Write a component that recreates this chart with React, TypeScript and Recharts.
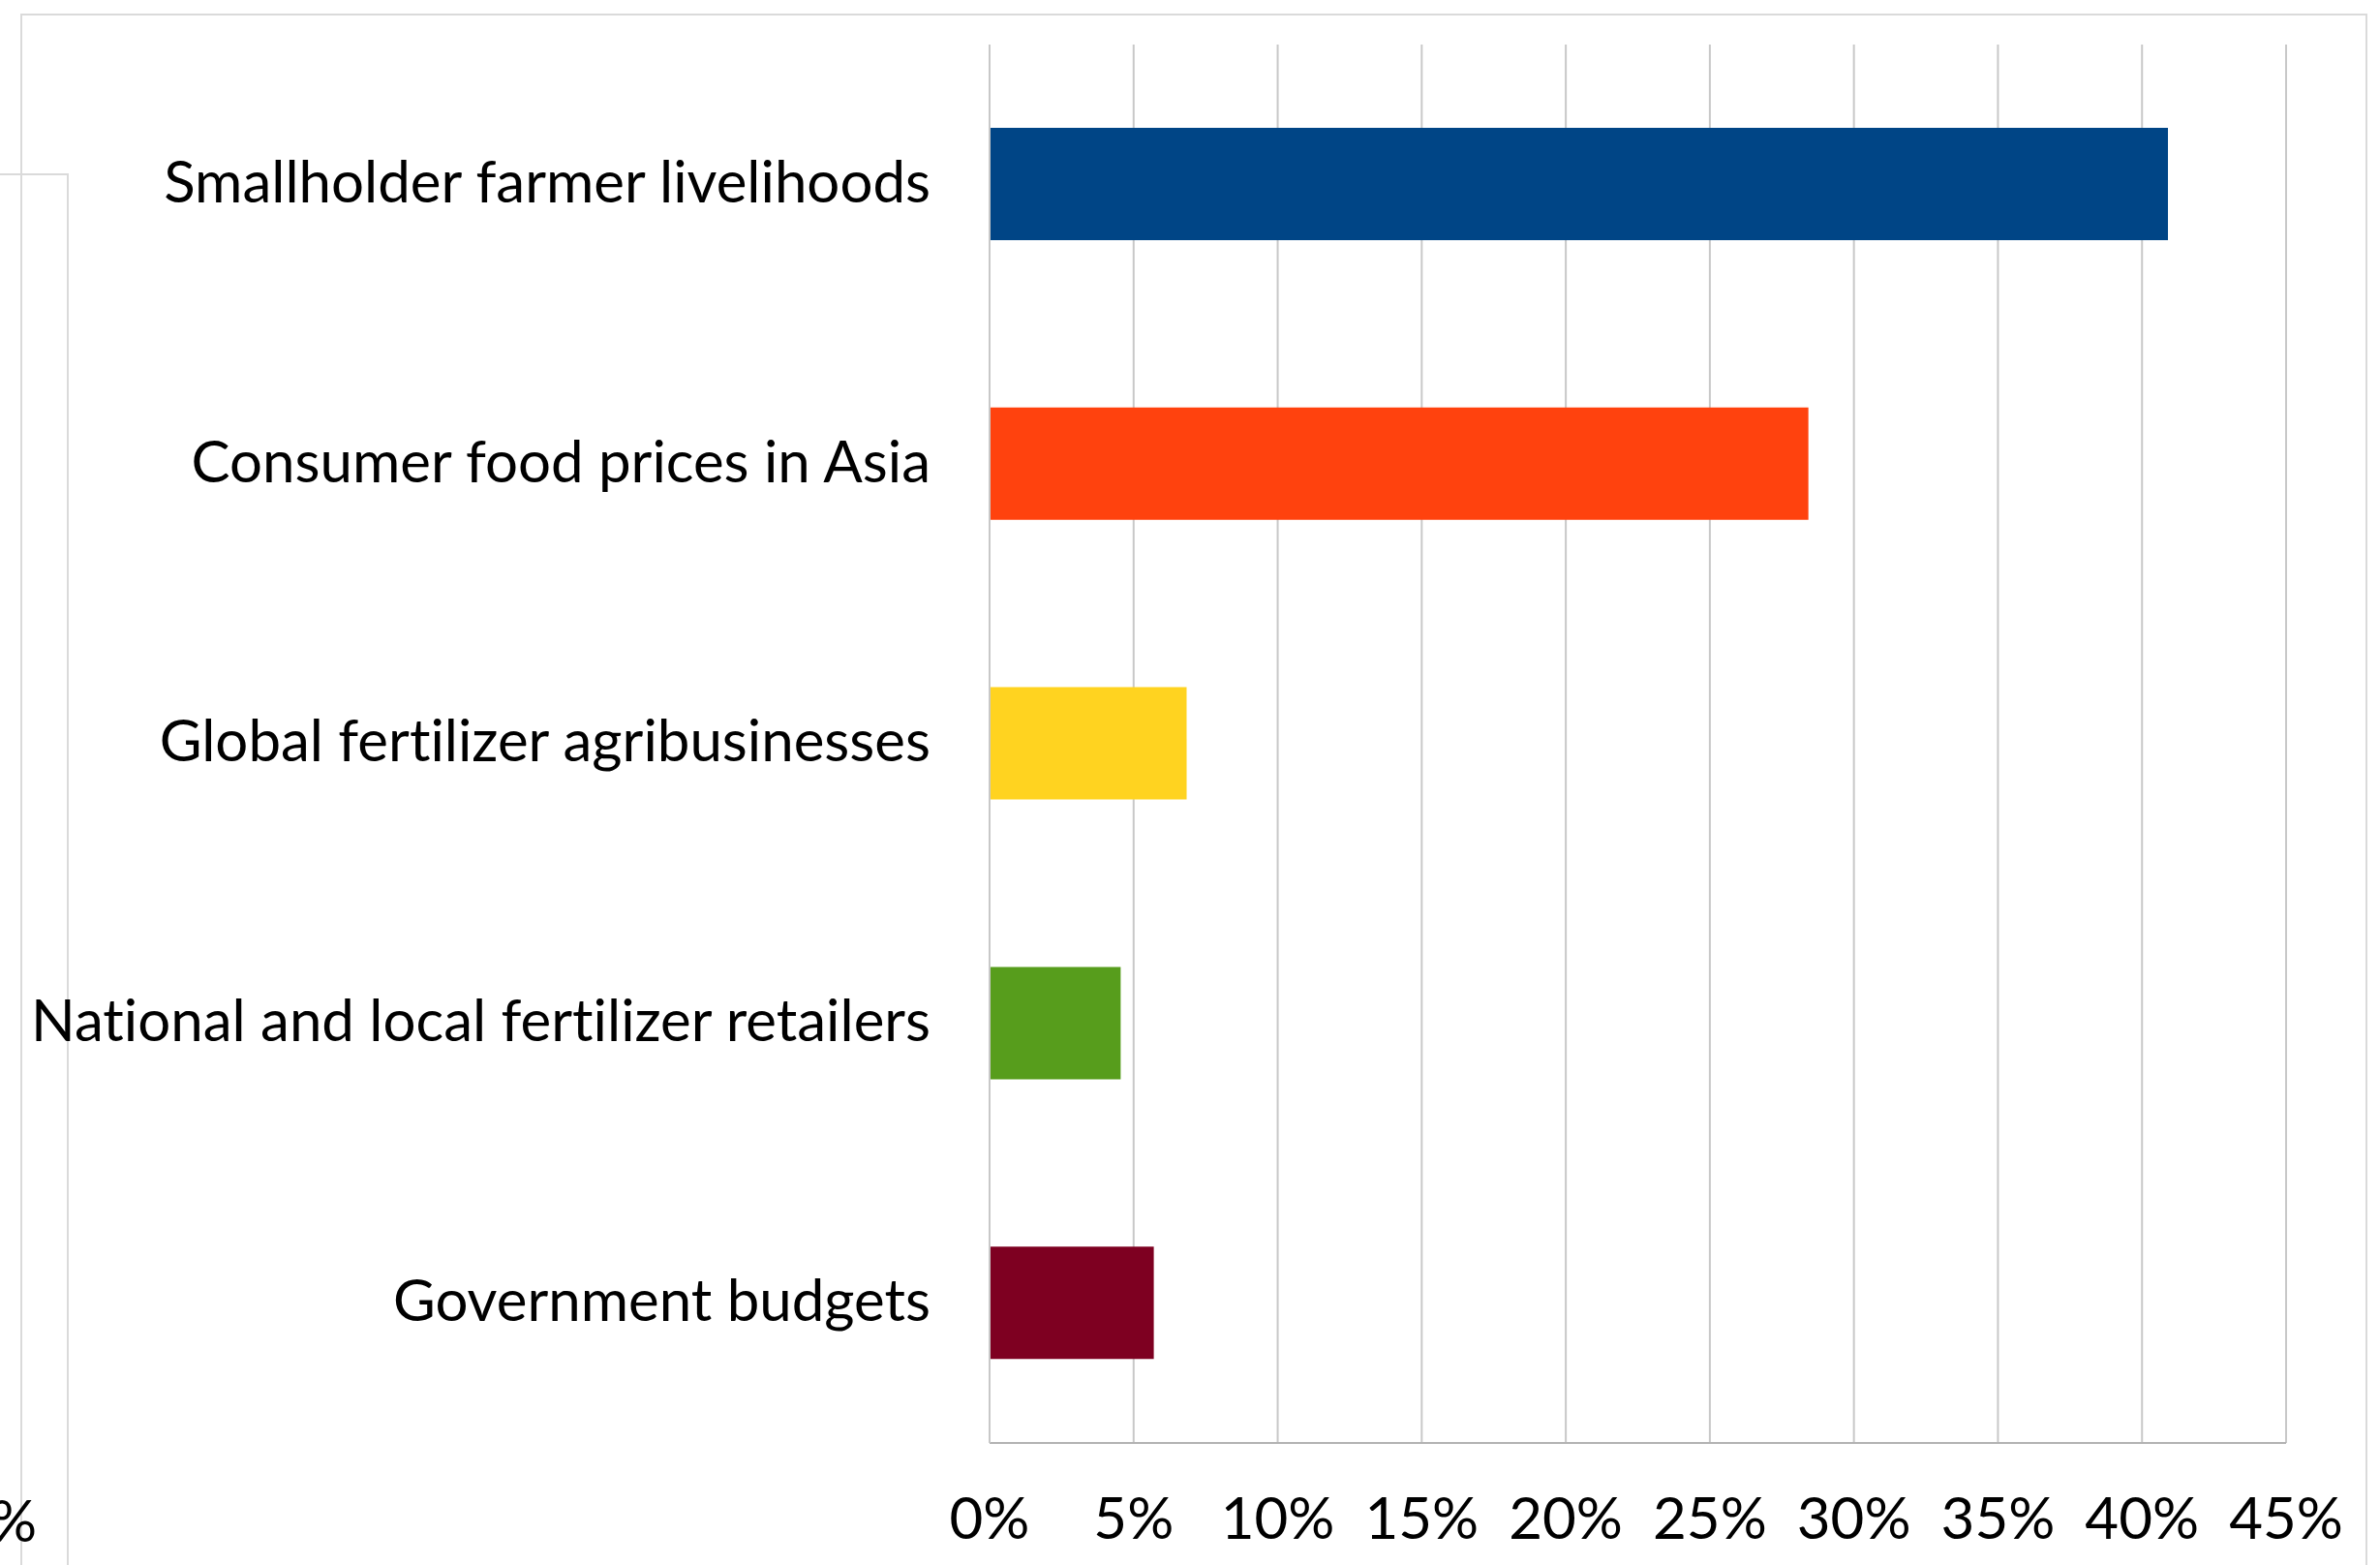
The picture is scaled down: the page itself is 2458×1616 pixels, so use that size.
import { BarChart, Bar, XAxis, YAxis, CartesianGrid, Cell } from "recharts"

const categories = [
  "Smallholder farmer livelihoods",
  "Consumer food prices in Asia",
  "Global fertilizer agribusinesses",
  "National and local fertilizer retailers",
  "Government budgets",
]
const shares = [0.409, 0.2842, 0.0684, 0.0455, 0.057]
const barColors = ["#004586", "#ff420e", "#ffd320", "#579d1c", "#7e0021"]
const xTicks = [0, 0.05, 0.1, 0.15, 0.2, 0.25, 0.3, 0.35, 0.4, 0.45]

const FONT = "Lato, 'Noto Sans', sans-serif"
const FS = 60

export default function App() {
  const data = categories.map((name, i) => ({ name, value: shares[i] }))

  return (
    <div
      style={{
        position: "absolute",
        left: 0,
        top: 0,
        width: 2458,
        height: 1616,
        overflow: "hidden",
        background: "#fff",
        fontFamily: FONT,
        fontVariantLigatures: "none",
      }}
    >
      {/* leftover frame lines from the page behind the chart */}
      <svg width={2458} height={1616} style={{ position: "absolute", left: 0, top: 0 }}>
        <path d="M22 1616 V15 H2444 V1616" fill="none" stroke="#dadada" strokeWidth={2} />
        <path d="M0 180 H70 V1616" fill="none" stroke="#dadada" strokeWidth={2} />
        <text x={38} y={1592} textAnchor="end" fontSize={FS} fill="#000" fontFamily={FONT}>0%</text>
      </svg>
      <div style={{ position: "absolute", left: 0, top: 0 }}>
        <BarChart
          width={2458}
          height={1616}
          data={data}
          layout="vertical"
          margin={{ top: 46, right: 97, left: 0, bottom: 66 }}
        >
          <CartesianGrid horizontal={false} stroke="#c8c8c8" strokeWidth={2} />
          <XAxis
            type="number"
            domain={[0, 0.45]}
            ticks={xTicks}
            interval={0}
            height={60}
            tickFormatter={(v) => `${Math.round(v * 100)}%`}
            tick={{ fontSize: FS, fill: "#000", fontFamily: FONT }}
            tickLine={false}
            tickSize={0}
            tickMargin={56}
            axisLine={{ stroke: "#b3b3b3", strokeWidth: 2 }}
          />
          <YAxis
            type="category"
            dataKey="name"
            width={1022}
            tick={{ fontSize: FS, fill: "#000", fontFamily: FONT, dy: -3 }}
            tickLine={false}
            tickSize={0}
            tickMargin={61}
            axisLine={{ stroke: "#c8c8c8", strokeWidth: 2 }}
          />
          <Bar dataKey="value" barSize={116} isAnimationActive={false}>
            {data.map((d, i) => (
              <Cell key={d.name} fill={barColors[i]} />
            ))}
          </Bar>
        </BarChart>
      </div>
    </div>
  )
}
